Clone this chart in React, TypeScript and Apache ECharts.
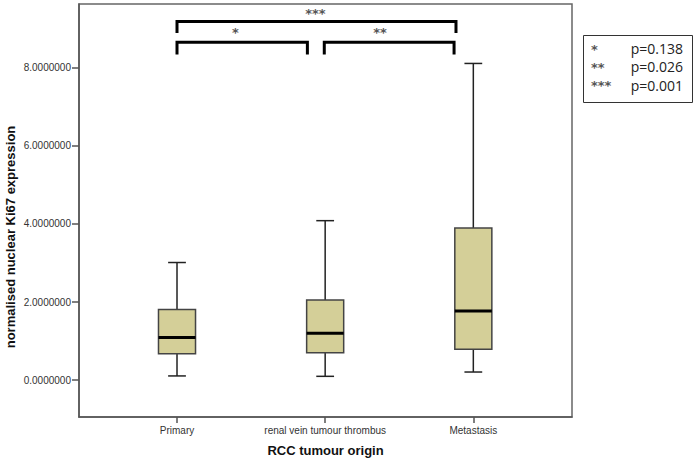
import React, { useEffect, useRef } from "react";
import * as echarts from "echarts";

const categories = ["Primary", "renal vein tumour thrombus", "Metastasis"];
// [min, Q1, median, Q3, max]
const boxStats = [
  [0.11, 0.68, 1.09, 1.81, 3.01],
  [0.1, 0.7, 1.2, 2.05, 4.08],
  [0.21, 0.79, 1.77, 3.89, 8.1],
];
const yTicks = [0, 2, 4, 6, 8];
const xTicks = [0, 1, 2];
// significance brackets: [xStart, xEnd, yTop, yLeg, labelX, labelY]
const bracketPos = [
  [0, 1.883, 9.17, 8.88, 0.934, 9.38],
  [0, 0.88, 8.64, 8.33, 0.394, 8.88],
  [0.994, 1.87, 8.64, 8.33, 1.37, 8.88],
];
const bracketLabels = ["***", "*", "**"];
const legendStars = ["*", "**", "***"];
const legendP = ["p=0.138", "p=0.026", "p=0.001"];

export default function App() {
  const ref = useRef<HTMLDivElement>(null);
  useEffect(() => {
    if (!ref.current) return;
    const chart = echarts.init(ref.current, null, { renderer: "svg" });
    const boxData = boxStats.map((s, i) => [i, ...s]);
    const brData = bracketPos.map((b) => [...b]);
    const font = "Liberation Sans, Arial, sans-serif";
    const starStyle = {
      fontSize: 13,
      fontFamily: "DejaVu Sans",
      fontWeight: "bold",
      fill: "#555",
    };
    const option: any = {
      animation: false,
      backgroundColor: "#fff",
      grid: {
        left: 79,
        right: 125,
        top: 4,
        bottom: 46,
        show: true,
        borderColor: "#666",
        borderWidth: 1.5,
        containLabel: false,
      },
      xAxis: {
        type: "value",
        min: -0.6615,
        max: 2.666,
        splitLine: { show: false },
        axisLine: { show: true, onZero: false, lineStyle: { color: "#555", width: 1.5 } },
        axisTick: {
          show: true,
          customValues: xTicks,
          length: 6,
          lineStyle: { color: "#555", width: 1.5 },
        },
        axisLabel: {
          customValues: xTicks,
          formatter: (v: number) => categories[Math.round(v)] ?? "",
          fontSize: 10,
          fontFamily: font,
          color: "#333",
          margin: 8,
        },
        name: "RCC tumour origin",
        nameLocation: "middle",
        nameGap: 27,
        nameTextStyle: {
          fontSize: 13,
          fontWeight: "bold",
          fontFamily: font,
          color: "#111",
        },
      },
      yAxis: {
        type: "value",
        min: -0.94,
        max: 9.62,
        splitLine: { show: false },
        axisLine: { show: true, onZero: false, lineStyle: { color: "#555", width: 1.5 } },
        axisTick: {
          show: true,
          customValues: yTicks,
          length: 7,
          lineStyle: { color: "#555", width: 1.5 },
        },
        axisLabel: {
          customValues: yTicks,
          formatter: (v: number) => v.toFixed(7),
          fontSize: 10,
          fontFamily: font,
          color: "#333",
          margin: 8,
        },
      },
      graphic: [
        {
          type: "text",
          x: 10,
          y: 237,
          rotation: Math.PI / 2,
          style: {
            text: "normalised nuclear Ki67 expression",
            fontSize: 13,
            fontWeight: "bold",
            fontFamily: font,
            fill: "#111",
            align: "center",
            verticalAlign: "middle",
          },
        },
        {
          type: "rect",
          shape: { x: 583.5, y: 35.5, width: 109, height: 67 },
          style: { fill: "#fff", stroke: "#333", lineWidth: 1 },
        },
        ...legendStars.map((s, i) => ({
          type: "text",
          x: 591,
          y: 49 + i * 18.3,
          style: {
            ...starStyle,
            text: s,
            align: "left",
            verticalAlign: "middle",
          },
        })),
        ...legendP.map((p, i) => ({
          type: "text",
          x: 683,
          y: 48.5 + i * 18.3,
          style: {
            text: p,
            fontSize: 14,
            fontFamily: "Open Sans",
            fill: "#222",
            align: "right",
            verticalAlign: "middle",
          },
        })),
      ],
      series: [
        {
          type: "custom",
          data: boxData,
          encode: { x: 0, y: [1, 2, 3, 4, 5] },
          renderItem: (params: any, api: any) => {
            const x = api.value(0);
            const mn = api.coord([x, api.value(1)]);
            const q1 = api.coord([x, api.value(2)]);
            const md = api.coord([x, api.value(3)]);
            const q3 = api.coord([x, api.value(4)]);
            const mx = api.coord([x, api.value(5)]);
            const hb = api.size([0.25, 0])[0] / 2;
            const hc = api.size([0.12, 0])[0] / 2;
            const cx = mn[0];
            const lineStyle = { stroke: "#222", lineWidth: 1.5, fill: null };
            return {
              type: "group",
              children: [
                { type: "line", shape: { x1: cx, y1: mx[1], x2: cx, y2: q3[1] }, style: lineStyle },
                { type: "line", shape: { x1: cx, y1: q1[1], x2: cx, y2: mn[1] }, style: lineStyle },
                { type: "line", shape: { x1: cx - hc, y1: mx[1], x2: cx + hc, y2: mx[1] }, style: lineStyle },
                { type: "line", shape: { x1: cx - hc, y1: mn[1], x2: cx + hc, y2: mn[1] }, style: lineStyle },
                {
                  type: "rect",
                  shape: { x: cx - hb, y: q3[1], width: hb * 2, height: q1[1] - q3[1] },
                  style: { fill: "#D4CF98", stroke: "#444", lineWidth: 1.5 },
                },
                { type: "line", shape: { x1: cx - hb, y1: md[1], x2: cx + hb, y2: md[1] }, style: { stroke: "#000", lineWidth: 3 } },
              ],
            };
          },
        },
        {
          type: "custom",
          data: brData,
          encode: { x: [0, 1], y: [2, 3] },
          renderItem: (params: any, api: any) => {
            const a = api.coord([api.value(0), api.value(3)]);
            const b = api.coord([api.value(0), api.value(2)]);
            const c = api.coord([api.value(1), api.value(2)]);
            const d = api.coord([api.value(1), api.value(3)]);
            const t = api.coord([api.value(4), api.value(5)]);
            return {
              type: "group",
              children: [
                {
                  type: "polyline",
                  shape: { points: [a, b, c, d] },
                  style: { stroke: "#000", lineWidth: 3, fill: null },
                },
                {
                  type: "text",
                  x: t[0],
                  y: t[1],
                  style: {
                    ...starStyle,
                    text: bracketLabels[params.dataIndex],
                    align: "center",
                    verticalAlign: "middle",
                  },
                },
              ],
            };
          },
        },
      ],
    };
    chart.setOption(option);
    return () => chart.dispose();
  }, []);
  return (
    <div
      ref={ref}
      style={{ position: "fixed", left: 0, top: 0, width: 697, height: 463, background: "#fff" }}
    />
  );
}
